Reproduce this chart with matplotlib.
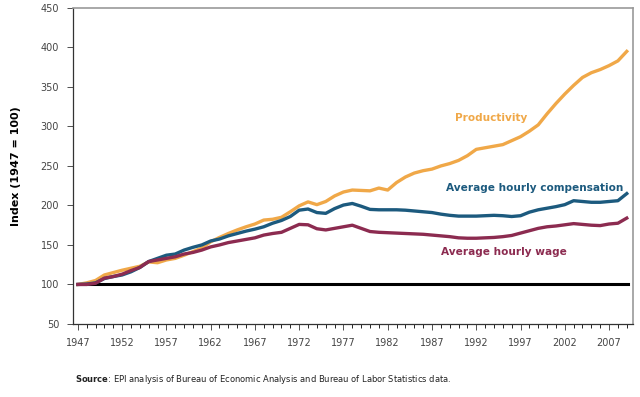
import numpy as np
import matplotlib.pyplot as plt
from matplotlib.ticker import MultipleLocator

years = np.arange(1947, 2010)

productivity = [100, 102, 105, 112, 115, 118, 120.5, 123, 128.5, 127.5, 131, 133, 137, 141.5, 146,
                154, 159.5, 164.5, 169, 173, 176.5, 181.5, 182.5, 185, 192, 199.5, 204.5, 201, 205, 212,
                217, 219.5, 219, 218.5, 222, 219.5, 229, 236, 241, 244, 246, 250, 253, 257, 263,
                271, 273, 275, 277, 282, 287, 294, 302, 316, 329, 341, 352, 362, 368, 372, 377, 383, 395]

compensation = [100, 100.5, 102, 107.5, 110, 112, 116, 121.5, 129, 133, 137, 138.5, 143.5, 147, 150,
                155, 157.5, 161.5, 164.5, 167.5, 170, 173, 177.5, 181, 186, 194, 195.5, 191, 190, 196,
                200.5, 202.5, 199, 195, 194.5, 194.5, 194.5, 194, 193, 192, 191, 189, 187.5, 186.5, 186.5,
                186.5, 187, 187.5, 187, 186, 187, 191.5, 194.5, 196.5, 198.5, 201, 206, 205, 204, 204, 205, 206, 215]

wage = [100, 100, 101.5, 108, 110, 113, 117.5, 121.5, 129, 131, 133, 135, 138.5, 140.5, 143.5,
        147.5, 150, 153, 155, 157, 159, 162.5, 164.5, 166, 171, 176, 175.5, 170.5, 169, 171,
        173, 175, 171, 167, 166, 165.5, 165, 164.5, 164, 163.5, 162.5, 161.5, 160.5, 159, 158.5,
        158.5, 159, 159.5, 160.5, 162, 165, 168, 171, 173, 174, 175.5, 177, 176, 175, 174.5, 176.5, 177.5, 184]

orange = '#F0A848'
blue = '#1C5A7E'
maroon = '#8C2B50'

fig = plt.figure(figsize=(6.4, 3.97), dpi=100)
ax = fig.add_axes([0.114, 0.184, 0.875, 0.796])

ax.plot(years, productivity, color=orange, lw=2.4, solid_joinstyle='round')
ax.plot(years, compensation, color=blue, lw=2.4, solid_joinstyle='round')
ax.plot(years, wage, color=maroon, lw=2.4, solid_joinstyle='round')
ax.axhline(100, xmin=(1947 - 1946.45) / (2009.7 - 1946.45), xmax=(2009.1 - 1946.45) / (2009.7 - 1946.45),
           color='black', lw=2.2, zorder=1)

ax.set_xlim(1946.45, 2009.7)
ax.set_ylim(50, 450)
ax.set_xticks(np.arange(1947, 2010, 5))
ax.xaxis.set_minor_locator(MultipleLocator(1))
ax.set_yticks(np.arange(50, 451, 50))
ax.tick_params(axis='both', labelsize=7, colors='#333333', labelcolor='#444444', direction='out')
ax.tick_params(axis='x', which='major', length=4, width=0.6, pad=6)
ax.tick_params(axis='x', which='minor', length=3, width=0.6)
ax.tick_params(axis='y', length=4, width=0.6, pad=6)

for side in ['top', 'right']:
    ax.spines[side].set_color('#999999')
    ax.spines[side].set_linewidth(1.2)
for side in ['left', 'bottom']:
    ax.spines[side].set_color('#333333')
    ax.spines[side].set_linewidth(0.9)

ax.set_ylabel('Index (1947 = 100)', fontsize=8, fontweight='bold', labelpad=14)

ax.text(1993.7, 311, 'Productivity', color=orange, fontsize=7.6, fontweight='bold', ha='center', va='center')
ax.text(1998.6, 222, 'Average hourly compensation', color=blue, fontsize=7.6, fontweight='bold',
        ha='center', va='center')
ax.text(1995.1, 141.5, 'Average hourly wage', color=maroon, fontsize=7.6, fontweight='bold',
        ha='center', va='center')

fig.text(0.117, 0.043, r'$\bf{Source}$: EPI analysis of Bureau of Economic Analysis and Bureau of Labor Statistics data.',
         fontsize=6, color='#222222', va='center')

fig.savefig('out.png', dpi=100)
